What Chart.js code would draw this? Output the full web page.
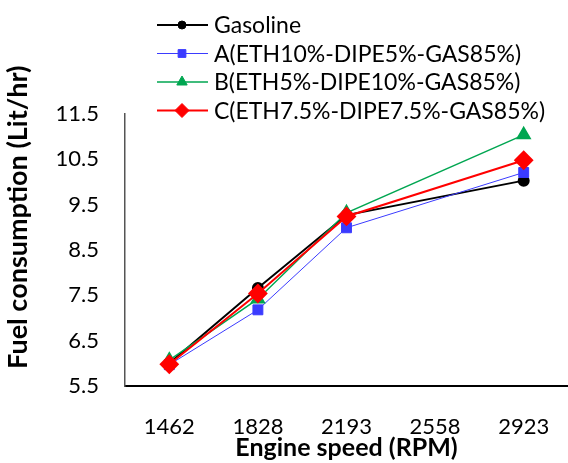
<!DOCTYPE html>
<html>
<head>
<meta charset="utf-8">
<script src="https://cdn.jsdelivr.net/npm/chart.js@4/dist/chart.umd.min.js"></script>
<style>
  html, body { margin: 0; padding: 0; background: #fff; overflow: hidden; }
  #wrap { width: 568px; height: 463px; position: relative; }
  canvas { display: block; }
</style>
</head>
<body>
<div id="wrap"><canvas id="myChart"></canvas></div>
<script>
// engine speed categories (RPM) - 2558 has no measurement
var speeds = ["1462", "1828", "2193", "2558", "2923"];

// fuel consumption (Lit/hr)
var gasoline = [6.0, 7.66, 9.27, null, 10.03];
var fuelA = [5.97, 7.18, 8.99, null, 10.21];
var fuelB = [6.07, 7.42, 9.32, null, 11.04];
var fuelC = [5.98, 7.54, 9.24, null, 10.48];

var seriesNames = ["Gasoline", "A(ETH10%-DIPE5%-GAS85%)", "B(ETH5%-DIPE10%-GAS85%)", "C(ETH7.5%-DIPE7.5%-GAS85%)"];

var yMin = 5.5;
var yMax = 11.5;
var yStep = 1;

var fontName = "Lato, 'Open Sans', sans-serif";

// smaller markers used in the legend
var legendRadius = [4, 5.5, 6, 7];

// legend drawn as a vertical list above the plot
var stackedLegend = {
    id: "stackedLegend",
    afterDraw: function(chart) {
        let ctx = chart.ctx;
        let sets = chart.data.datasets;
        ctx.save();
        ctx.font = "23px " + fontName;
        ctx.textBaseline = "middle";
        for (let i = 0; i < sets.length; i++) {
            let ds = sets[i];
            let y = 25 + i * 28.5;
            ctx.strokeStyle = ds.borderColor;
            ctx.lineWidth = ds.borderWidth;
            ctx.beginPath();
            ctx.moveTo(157, y);
            ctx.lineTo(208, y);
            ctx.stroke();
            ctx.fillStyle = ds.pointBackgroundColor;
            ctx.strokeStyle = ds.pointBorderColor;
            ctx.lineWidth = 1;
            Chart.helpers.drawPoint(ctx, {pointStyle: ds.pointStyle, radius: legendRadius[i], rotation: 0, borderWidth: 1}, 182, y);
            ctx.fillStyle = "#000";
            ctx.fillText(ds.label, 214, y + 1);
        }
        ctx.restore();
    }
};

function makeSet(label, values, color, style, radius, width, order) {
    return {
        label: label,
        data: values,
        borderColor: color,
        backgroundColor: color,
        pointBackgroundColor: color,
        pointBorderColor: color,
        pointStyle: style,
        pointRadius: radius,
        pointHoverRadius: radius,
        borderWidth: width,
        tension: 0,
        spanGaps: true,
        clip: false,
        order: order
    };
}

var config = {
    type: "line",
    data: {
        labels: speeds,
        datasets: [
            makeSet(seriesNames[0], gasoline, "#000000", "circle", 5, 2, 4),
            makeSet(seriesNames[1], fuelA, "#3b3bff", "rect", 7, 1, 3),
            makeSet(seriesNames[2], fuelB, "#00a651", "triangle", 7.5, 1.5, 2),
            makeSet(seriesNames[3], fuelC, "#ff0000", "rectRot", 8.5, 2, 1)
        ]
    },
    options: {
        responsive: true,
        maintainAspectRatio: false,
        animation: false,
        layout: {
            autoPadding: false,
            padding: {top: 114, right: 0, left: 0, bottom: 0}
        },
        plugins: {
            legend: {display: false},
            tooltip: {enabled: false}
        },
        scales: {
            x: {
                offset: true,
                grid: {display: false, drawTicks: true, tickLength: 28, tickColor: "rgba(0,0,0,0)"},
                border: {display: true, color: "#000", width: 2},
                ticks: {
                    color: "#000",
                    padding: 0,
                    font: {family: fontName, size: 22}
                },
                title: {
                    display: true,
                    text: "Engine speed (RPM)",
                    color: "#000",
                    padding: {top: 0, bottom: 0},
                    font: {family: fontName, size: 25, weight: "bold"}
                },
                afterFit: function(scale) {
                    scale.height = 77;
                    scale.paddingLeft = 0;
                    scale.paddingRight = 0;
                }
            },
            y: {
                min: yMin,
                max: yMax,
                grid: {display: false, drawTicks: false},
                border: {display: true, color: "#555", width: 1.5},
                ticks: {
                    stepSize: yStep,
                    color: "#000",
                    padding: 26,
                    font: {family: fontName, size: 22},
                    callback: function(v) { return v.toFixed(1); }
                },
                title: {
                    display: true,
                    text: "\u00a0".repeat(10) + "Fuel consumption (Lit/hr)",
                    color: "#000",
                    padding: {top: 2, bottom: 4},
                    font: {family: fontName, size: 27, weight: "bold"}
                },
                afterFit: function(scale) { scale.width = 125; }
            }
        }
    },
    plugins: [stackedLegend]
};

var myChart = new Chart(document.getElementById("myChart"), config);
</script>
</body>
</html>
